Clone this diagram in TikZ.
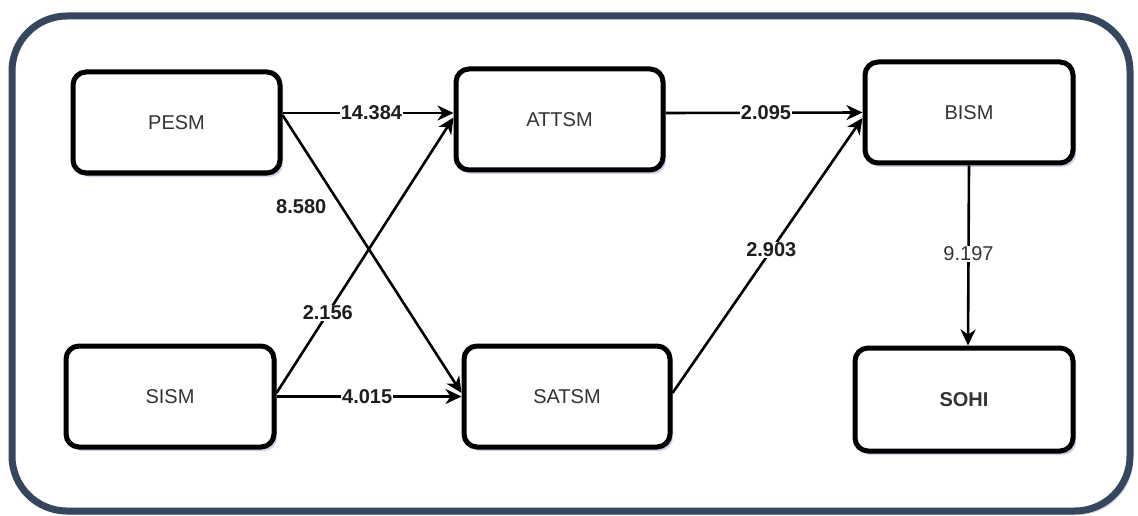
\documentclass[tikz,border=0pt]{standalone}
\usepackage{fontspec}
\setmainfont{Liberation Sans}
\usetikzlibrary{arrows.meta,shadows}
\definecolor{framecol}{HTML}{34475C}
\definecolor{shadowcol}{HTML}{A9AED6}
\definecolor{boxtext}{HTML}{333333}
\definecolor{labtext}{HTML}{1E1E1E}
\tikzset{
  box/.style={draw=black, line width=5pt, rounded corners=13pt, fill=white,
    minimum width=207pt, minimum height=101pt, inner sep=0pt,
    text=boxtext, font=\fontsize{20}{24}\selectfont,
    drop shadow={shadow xshift=3pt, shadow yshift=-4pt, fill=shadowcol, opacity=0.55}},
  conn/.style={draw=black, line width=2.6pt, -{Stealth[length=16pt,width=15pt,inset=5pt]}},
  lab/.style={fill=white, inner sep=1pt, text=labtext, font=\fontsize{20}{24}\selectfont\bfseries},
  labr/.style={fill=white, inner sep=1pt, text=boxtext, font=\fontsize{20}{24}\selectfont},
  frame/.style={draw=framecol, fill=white, line width=7pt, rounded corners=55pt,
    drop shadow={shadow xshift=3pt, shadow yshift=-4pt, fill=shadowcol, opacity=0.5}}
}
\begin{document}
\begin{tikzpicture}[x=1pt,y=-1pt]
\useasboundingbox[fill=white] (0,0) rectangle (1138,516);
\path[frame] (12,16) rectangle (1130,511);

\node[box] (PESM)  at (176.5,122.5) {PESM};
\node[box] (ATTSM) at (559.5,119.5) {ATTSM};
\node[box, minimum width=208pt] (SISM)  at (170,396.5) {SISM};
\node[box, minimum width=206pt] (SATSM) at (567,396.5) {SATSM};
\node[box, minimum width=208pt] (BISM)  at (969,112.5) {BISM};
\node[box, minimum width=218pt, minimum height=103pt, font=\fontsize{20}{24}\selectfont\bfseries] (SOHI) at (964,399.5) {SOHI};

\draw[conn] ([yshift=9.5pt]PESM.east) -- node[lab, pos=0.52] {14.384} ([yshift=6.5pt]ATTSM.west);
\draw[conn] ([yshift=7.5pt]PESM.east) -- node[pos=0.33, anchor=east, xshift=-13pt, inner sep=1pt, text=labtext, font=\fontsize{20}{24}\selectfont\bfseries] {8.580} ([yshift=3.5pt]SATSM.west);
\draw[conn] ([yshift=3.5pt]SISM.east) -- node[lab, pos=0.29] {2.156} ([yshift=2pt]ATTSM.west);
\draw[conn] (SISM.east) -- node[lab, pos=0.49] {4.015} (SATSM.west);
\draw[conn] ([yshift=6.5pt]ATTSM.east) -- node[lab, pos=0.51] {2.095} (BISM.west);
\draw[conn] ([yshift=3.5pt]SATSM.east) -- node[lab, pos=0.52] {2.903} ([yshift=-5.5pt]BISM.west);
\draw[conn] (BISM.south) -- node[labr, pos=0.49] {9.197} ([xshift=4pt]SOHI.north);
\end{tikzpicture}
\end{document}
